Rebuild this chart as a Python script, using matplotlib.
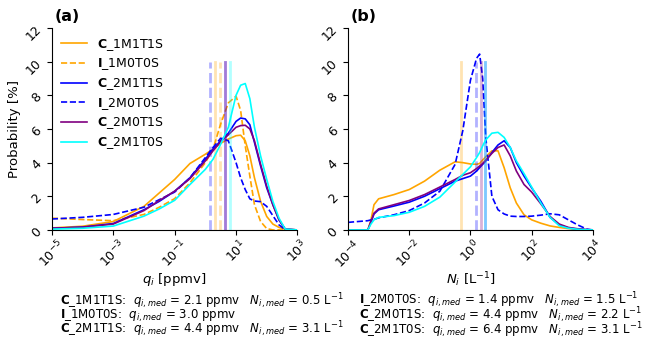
import numpy as np
import matplotlib
matplotlib.use('Agg')
import matplotlib.pyplot as plt

# log10 grids the curves were read on
lq = [-5, -4, -3, -2, -1.5, -1, -0.5, 0, 0.25, 0.5, 0.75, 1.0, 1.15, 1.3, 1.45, 1.6, 1.8, 2.0, 2.2, 2.4, 2.6, 3.0]
lN = [-4, -3.35, -3.25, -3.15, -3.0, -2.5, -2.0, -1.5, -1.0, -0.5, -0.25, 0.0, 0.2, 0.3, 0.4, 0.5,
      0.7, 0.9, 1.1, 1.3, 1.5, 1.75, 2.0, 2.3, 2.6, 2.9, 3.2, 3.5, 3.8, 4.0]

# panel (a): probability [%] vs q_i
pq_C_1M1T1S = [0.12, 0.22, 0.5, 1.4, 2.2, 3.0, 3.95, 4.5, 4.8, 5.15, 5.4, 5.6, 5.63, 5.3, 4.4, 3.1, 1.7, 0.8, 0.35, 0.15, 0.05, 0]
pq_I_1M0T0S = [0.7, 0.62, 0.55, 0.92, 1.35, 1.86, 2.8, 4.0, 4.8, 6.3, 7.55, 7.95, 7.1, 5.0, 3.2, 1.5, 0.5, 0.08, 0, 0, 0, 0]
pq_C_2M1T1S = [0.1, 0.17, 0.38, 1.2, 1.7, 2.3, 3.1, 4.2, 4.8, 5.3, 5.75, 6.45, 6.65, 6.6, 6.25, 5.2, 3.8, 2.5, 1.5, 0.6, 0.05, 0]
pq_I_2M0T0S = [0.65, 0.75, 0.92, 1.35, 1.8, 2.25, 3.1, 4.3, 4.9, 5.45, 5.3, 4.0, 3.1, 2.4, 1.85, 1.72, 1.68, 1.4, 0.85, 0.3, 0.02, 0]
pq_C_2M0T1S = [0.1, 0.16, 0.35, 1.15, 1.75, 2.3, 3.05, 4.1, 4.7, 5.25, 5.65, 6.1, 6.2, 6.22, 6.0, 5.3, 3.9, 2.6, 1.5, 0.6, 0.05, 0]
pq_C_2M1T0S = [0.05, 0.1, 0.23, 0.82, 1.25, 1.76, 2.7, 3.6, 4.2, 5.1, 6.1, 8.0, 8.6, 8.7, 7.8, 6.1, 4.4, 3.0, 1.7, 0.7, 0.05, 0]

# panel (b): probability [%] vs N_i (no I_1M0T0S)
pN_C_1M1T1S = [0, 0, 0.6, 1.5, 1.85, 2.1, 2.4, 2.9, 3.55, 4.05, 4.0, 3.92, 3.9, 3.95, 4.15, 4.35,
               4.7, 4.7, 3.7, 2.5, 1.6, 0.9, 0.6, 0.4, 0.24, 0.15, 0.08, 0.04, 0.01, 0]
pN_C_2M1T1S = [0, 0, 0.45, 0.95, 1.2, 1.42, 1.65, 2.0, 2.45, 2.9, 3.05, 3.2, 3.5, 3.7, 3.9, 4.1,
               4.6, 5.05, 5.3, 4.9, 4.0, 3.2, 2.5, 1.7, 0.75, 0.3, 0.12, 0.05, 0.01, 0]
pN_I_2M0T0S = [0.45, 0.55, 0.6, 0.63, 0.72, 0.9, 1.15, 1.6, 2.3, 3.9, 5.9, 8.9, 10.2, 10.45, 9.0, 5.5,
               2.0, 1.2, 0.95, 0.82, 0.8, 0.8, 0.82, 0.88, 0.96, 0.9, 0.6, 0.3, 0.05, 0]
pN_C_2M0T1S = [0, 0, 0.5, 1.0, 1.25, 1.5, 1.75, 2.1, 2.55, 3.0, 3.25, 3.4, 3.65, 3.8, 3.95, 4.15,
               4.55, 4.9, 5.05, 4.4, 3.5, 2.7, 2.25, 1.55, 0.8, 0.35, 0.15, 0.07, 0.02, 0]
pN_C_2M1T0S = [0, 0, 0.35, 0.6, 0.75, 0.85, 1.05, 1.4, 1.95, 2.85, 3.3, 3.75, 4.3, 4.6, 5.0, 5.35,
               5.75, 5.8, 5.5, 4.9, 4.1, 3.35, 2.55, 1.6, 0.75, 0.25, 0.1, 0.04, 0.01, 0]

names = ['C_1M1T1S', 'I_1M0T0S', 'C_2M1T1S', 'I_2M0T0S', 'C_2M0T1S', 'C_2M1T0S']
colors = ['orange', 'orange', 'blue', 'blue', 'purple', 'cyan']
styles = ['-', '--', '-', '--', '-', '-']
pq = [pq_C_1M1T1S, pq_I_1M0T0S, pq_C_2M1T1S, pq_I_2M0T0S, pq_C_2M0T1S, pq_C_2M1T0S]
pN = [pN_C_1M1T1S, None, pN_C_2M1T1S, pN_I_2M0T0S, pN_C_2M0T1S, pN_C_2M1T0S]

# medians
q_med = [2.1, 3.0, 4.4, 1.4, 4.4, 6.4]
N_med = [0.5, None, 3.1, 1.5, 2.2, 3.1]

def label(n):
    return r'$\mathbf{' + n[0] + '}$' + n[1:]

fig = plt.figure(figsize=(6.48, 3.5), dpi=100)
ax1 = fig.add_axes([0.080, 0.343, 0.379, 0.577])
ax2 = fig.add_axes([0.537, 0.343, 0.378, 0.577])

for i in range(6):
    ax1.plot(10**np.array(lq), pq[i], color=colors[i], ls=styles[i], lw=1.2, label=label(names[i]))
    ax1.plot([q_med[i], q_med[i]], [0, 10], color=colors[i], ls=styles[i], lw=2, alpha=0.3)
    if pN[i] is not None:
        ax2.plot(10**np.array(lN), pN[i], color=colors[i], ls=styles[i], lw=1.2)
        ax2.plot([N_med[i], N_med[i]], [0, 10], color=colors[i], ls=styles[i], lw=2, alpha=0.3)

ax1.set_xscale('log')
ax1.set_xlim(1e-5, 1e3)
ax1.set_xticks([1e-5, 1e-3, 1e-1, 1e1, 1e3])
ax1.set_xlabel(r'$q_i$ [ppmv]', fontsize=9.5, labelpad=0)
ax1.set_ylabel('Probability [%]', fontsize=9.5, labelpad=2)

ax2.set_xscale('log')
ax2.set_xlim(1e-4, 1e4)
ax2.set_xticks([1e-4, 1e-2, 1e0, 1e2, 1e4])
ax2.set_xlabel(r'$N_i$ [L$^{-1}$]', fontsize=9.5, labelpad=0)

for ax, tag in [(ax1, '(a)'), (ax2, '(b)')]:
    ax.set_ylim(0, 12)
    ax.set_yticks([0, 2, 4, 6, 8, 10, 12])
    ax.minorticks_off()
    ax.spines['top'].set_visible(False)
    ax.spines['right'].set_visible(False)
    ax.tick_params(labelsize=9, pad=2)
    for t in ax.get_xticklabels():
        t.set_rotation(45)
    for t in ax.get_yticklabels():
        t.set_rotation(45)
    ax.text(0.01, 1.02, tag, transform=ax.transAxes, fontsize=11.5, fontweight='bold', ha='left', va='bottom')

ax1.legend(loc='upper left', bbox_to_anchor=(0.0, 1.0), frameon=False, fontsize=9,
           handlelength=2.1, labelspacing=0.3, borderaxespad=0.3)

# medians text under the panels
left_txt = [r'$\mathbf{C}$_1M1T1S:  $q_{i,med}$ = 2.1 ppmv   $N_{i,med}$ = 0.5 L$^{-1}$',
            r'$\mathbf{I}$_1M0T0S:  $q_{i,med}$ = 3.0 ppmv',
            r'$\mathbf{C}$_2M1T1S:  $q_{i,med}$ = 4.4 ppmv   $N_{i,med}$ = 3.1 L$^{-1}$']
right_txt = [r'$\mathbf{I}$_2M0T0S:  $q_{i,med}$ = 1.4 ppmv   $N_{i,med}$ = 1.5 L$^{-1}$',
             r'$\mathbf{C}$_2M0T1S:  $q_{i,med}$ = 4.4 ppmv   $N_{i,med}$ = 2.2 L$^{-1}$',
             r'$\mathbf{C}$_2M1T0S:  $q_{i,med}$ = 6.4 ppmv   $N_{i,med}$ = 3.1 L$^{-1}$']
fig.text(0.093, 0.100, '\n'.join(left_txt), fontsize=8.5, va='center', linespacing=0.68)
fig.text(0.554, 0.100, '\n'.join(right_txt), fontsize=8.5, va='center', linespacing=0.68)

fig.savefig('out.png', dpi=100)
